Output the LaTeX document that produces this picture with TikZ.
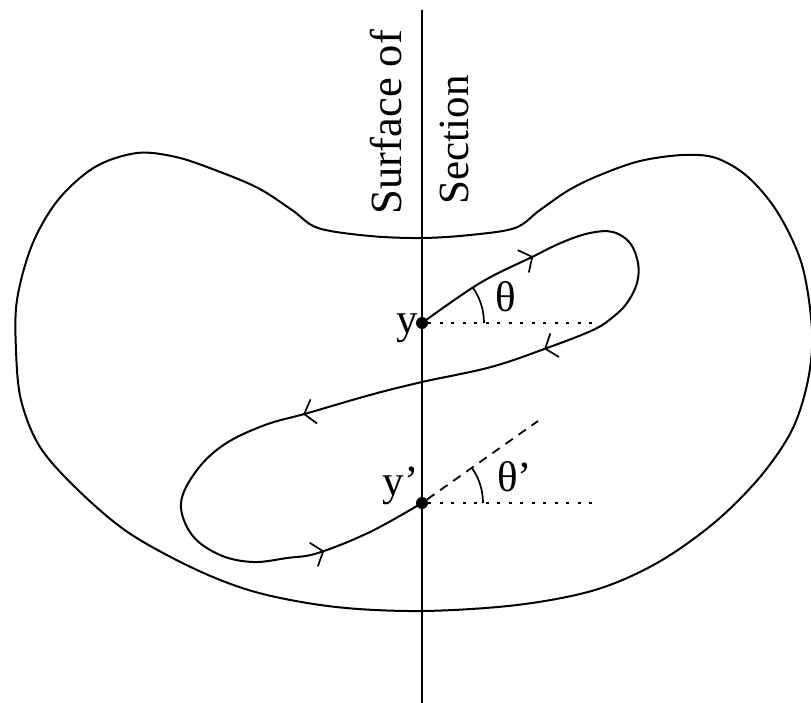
\documentclass[tikz,border=0pt]{standalone}
\usepackage{fontspec}
\setmainfont{Liberation Serif}
\usetikzlibrary{arrows.meta,decorations.markings}
\begin{document}
\begin{tikzpicture}[x=1pt,y=-1pt,
  curve/.style={line width=2pt, line join=round},
  chev/.tip={Straight Barb[length=10pt,width=25pt,line width=1.7pt]},
  lbl/.style={font=\fontsize{43}{43}\selectfont, inner sep=0pt},
  dotline/.style={line width=1.8pt, dash pattern=on 3pt off 8.5pt},
  dashline/.style={line width=1.8pt, dash pattern=on 9pt off 7pt},
  pt/.style={circle, fill=black, inner sep=0pt, minimum size=12pt}]
\useasboundingbox (0,0) rectangle (811,703);
% surface of section line
\coordinate (stop) at (422,10);
\coordinate (sbot) at (422,703);
\draw[line width=1.8pt] (stop) -- (sbot);
\node[lbl, font=\fontsize{44.5}{44.5}\selectfont, rotate=90, anchor=base] (surf) at (401,122) {Surface of};
\node[lbl, rotate=90, anchor=base] (sect) at (468,140) {Section};
% kidney boundary
\draw[curve] plot[smooth cycle, tension=0.55] coordinates {
 (137,153) (95,167) (58,200) (32,245) (17,300) (16,350) (21,400) (40,447)
 (78,490) (129,533) (197,570) (259,593) (336,607) (422,611) (517,605)
 (595,590) (657,563) (714,523) (760,477) (792,430) (808,380) (812,330)
 (802,265) (778,213) (748,177) (716,158) (683,155) (640,161) (600,175) (569,190)
 (540,210) (515,228) (470,235) (422,238) (370,236) (318,228) (292,210)
 (258,188) (215,170) (176,157)};
% points
\node[pt] (y) at (422,323) {};
\node[pt] (yp) at (422,503) {};
% trajectory
\draw[curve, postaction={decorate}, decoration={markings,
   mark=at position 130pt with {\arrow{chev}},
   mark=at position 396pt with {\arrow{chev}},
   mark=at position 646pt with {\arrow{chev}},
   mark=at position 981pt with {\arrow{chev}}}]
 plot[smooth, tension=0.6] coordinates {
 (422,323) (480,283) (532,257) (563,242) (590,233) (613,232) (630,243)
 (638,263) (637,283) (627,303) (613,317) (593,330) (547,348) (491,367)
 (422,382) (370,395) (308,413) (265,425) (225,444) (197,470)
 (181,503) (192,535) (220,555) (253,562) (287,558) (318,553) (370,532)
 (422,503)};
% reference lines
\coordinate (yr) at (597,323);
\coordinate (ypr) at (598,503);
\coordinate (dashend) at (538,421);
\draw[dotline] (y) -- (yr);
\draw[dotline] (yp) -- (ypr);
\draw[dashline] (yp) -- (dashend);
% angle arcs
\draw[line width=1.7pt] (y.center) ++(62,0) arc[start angle=0, end angle=-35, radius=62];
\draw[line width=1.7pt] (yp.center) ++(61,0) arc[start angle=0, end angle=-35, radius=61];
% labels
\node[lbl, anchor=base east] (ylab) at (418,333) {y};
\node[lbl, anchor=base east] (yplab) at (419,495) {y’};
\node[lbl, anchor=base] (th) at (506,312) {θ};
\node[lbl, anchor=base west] (thp) at (497,491) {θ’};
\end{tikzpicture}
\end{document}
